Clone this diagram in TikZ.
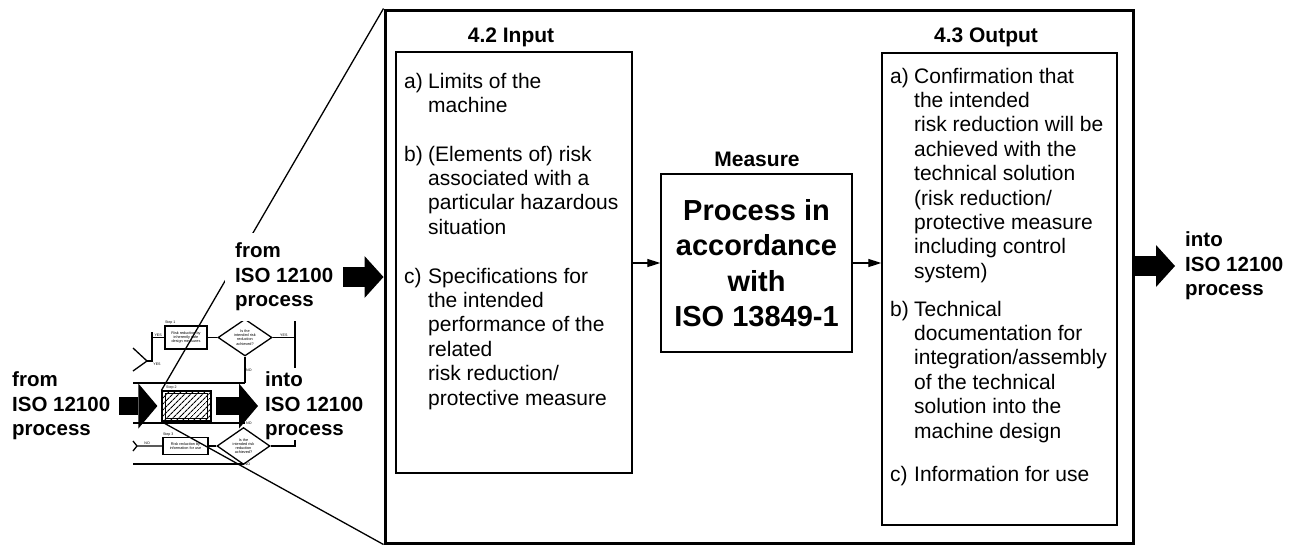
\documentclass[tikz,border=0pt]{standalone}
\usepackage{fontspec}
\setmainfont{Liberation Sans}
\usetikzlibrary{arrows.meta,positioning,shapes.geometric,patterns.meta}

\newcommand{\itemtab}[2]{\begin{tabular}[t]{@{}l@{}l@{}}\makebox[24pt][l]{#1}&#2\end{tabular}}

\begin{document}
\begin{tikzpicture}[%
    x=1pt, y=-1pt,
    box/.style={draw, line width=1.4pt, inner sep=0pt},
    frame/.style={draw, line width=3pt, inner sep=0pt,
        minimum width=748pt, minimum height=533pt},
    itm/.style={anchor=base west, inner sep=0pt,
        font=\fontsize{21}{24.4}\selectfont},
    title/.style={anchor=base, inner sep=0pt,
        font=\fontsize{21}{24.4}\selectfont\bfseries},
    lbl/.style={align=left, inner sep=4pt, anchor=west,
        font=\fontsize{20.5}{24.5}\selectfont\bfseries},
    link/.style={line width=1.3pt, -{Triangle[length=13pt,width=8pt]}},
    fatarrow/.style={line width=20pt,
        -{Triangle[length=19pt,width=42pt,line width=0pt]}},
    fatsmall/.style={line width=18pt,
        -{Triangle[length=19pt,width=45pt,line width=0pt]}},
    % thumbnail of the 12100 flow chart
    tbox/.style={draw, fill=white, line width=1.3pt, inner sep=0pt, align=center,
        font=\fontsize{3.8}{4.2}\selectfont},
    tdia/.style={diamond, draw, line width=1.3pt, inner sep=0pt, align=center,
        minimum width=54pt, minimum height=29pt,
        font=\fontsize{3.8}{4.2}\selectfont},
    tline/.style={line width=1.3pt},
    tlbl/.style={inner sep=0.5pt, font=\fontsize{3.6}{3.6}\selectfont},
    hatchbox/.style={draw, line width=2pt, inner sep=0pt,
        minimum width=49pt, minimum height=30pt,
        pattern={Lines[angle=45,distance=4pt,line width=1.2pt]}},
    zoomline/.style={line width=1.3pt}
]
\useasboundingbox (0,0) rectangle (1291,547);

% thumbnail: step 1
\node[tbox, minimum width=42pt, minimum height=23pt] (s1) at (186,337.5)
    {Risk reduction by\\inherently safe\\design measures};
\node[tlbl, anchor=south west] at (s1.north west) {Step 1};
\node[tdia] (d1) at (245,337.5) {Is the\\intended risk\\reduction\\achieved?};
\draw[tline] (s1) -- (d1);
\coordinate (yes1) at (295,337.5);
\draw[tline] (d1.east) -- (yes1) node[tlbl, midway, above] {YES};
\draw[tline] (295,317) -- (295,368);
\draw[tline] (152,332) -- (152,362);
\draw[tline] (152,337.5) -- (s1.west) node[tlbl, midway, above] {YES};
\draw[tline] (133,348) -- (147,361) -- (133,371);
\draw[tline] (147,361) -- (152,361);
\node[tlbl] at (157,364) {YES};
\coordinate (mtop) at (133,383);
\coordinate (mbot) at (133,423);
\draw[tline] (d1.south) -- (d1.south |- mtop) node[tlbl, midway, right] {NO};
\draw[tline] (mtop) -- (d1.south |- mtop);
\draw[tline] (mbot) -- (d1.south |- mbot) node[tlbl, right] {NO};

% thumbnail: step 2
\node[hatchbox] (s2) at (186.5,406) {};
\draw[line width=1.2pt] ([shift={(4,3)}]s2.north west) rectangle ([shift={(-4,-3)}]s2.south east);
\node[tlbl, anchor=south west] at ([xshift=4pt]s2.north west) {Step 2};

% thumbnail: step 3
\node[tbox, minimum width=45pt, minimum height=17pt] (s3) at (185.5,446)
    {Risk reduction by\\information for use};
\node[tlbl, anchor=south west] at (s3.north west) {Step 3};
\node[tdia, minimum width=53pt, minimum height=31pt] (d2) at (243.5,446)
    {Is the\\intended risk\\reduction\\achieved?};
\draw[tline] (s3) -- (d2);
\draw[tline] (133,441) -- (137,446) -- (s3.west) node[tlbl, pos=0.4, above] {NO};
\draw[tline] (137,446) -- (133,451);
\coordinate (yes3) at (295,446);
\draw[tline] (d2.east) -- (yes3) -- ++(0,-6);
\coordinate (lbot) at (133,464);
\draw[tline] (d2.south) -- (d2.south |- lbot) node[tlbl, right] {NO};
\draw[tline] (lbot) -- (d2.south |- lbot);

% frame and the three boxes
\node[frame] (frame) at (759,276.5) {};
\node[box, minimum width=236pt, minimum height=421pt] (inbox) at (514,262.5) {};
\node[box, minimum width=235pt, minimum height=472pt] (outbox) at (999.5,289) {};
\node[box, minimum width=191pt, minimum height=178pt, align=center,
    font=\fontsize{29}{35.3}\selectfont\bfseries] (measure) at (756.5,263)
    {Process in\\accordance\\with\\ISO 13849-1};

\node[title] (intitle) at (511,42) {4.2 Input};
\node[title] (outtitle) at (986,42) {4.3 Output};
\node[title] (meastitle) at (757,166) {Measure};

\draw[link] (inbox.east |- measure.west) -- (measure.west);
\draw[link] (measure.east) -- (measure.east -| outbox.west);

\node[itm] (in-a) at (404,88) {\itemtab{a)}{Limits of the\\&machine}};
\node[itm] (in-b) at (404,161) {\itemtab{b)}{(Elements of) risk\\&associated with a\\&particular hazardous\\&situation}};
\node[itm] (in-c) at (404,283) {\itemtab{c)}{Specifications for\\&the intended\\&performance of the\\&related\\&risk reduction/\\&protective measure}};

\node[itm] (out-a) at (890,83) {\itemtab{a)}{Confirmation that\\&the intended\\&risk reduction will be\\&achieved with the\\&technical solution\\&(risk reduction/\\&protective measure\\&including control\\&system)}};
\node[itm] (out-b) at (890,316) {\itemtab{b)}{Technical\\&documentation for\\&integration/assembly\\&of the technical\\&solution into the\\&machine design}};
\node[itm] (out-c) at (890,481) {\itemtab{c)}{Information for use}};

% zoom lines
\draw[zoomline] (s2.north west) -- (frame.north west);
\draw[zoomline] (s2.south west) -- (frame.south west);

% ISO 12100 labels and arrows
\node[lbl, fill=white, inner sep=10pt] (fromU) at (225,277) {from\\ISO 12100\\process};
\node[lbl] (intoR) at (1181,266) {into\\ISO 12100\\process};
\node[lbl] (fromL) at (8,406) {from\\ISO 12100\\process};
\node[lbl] (intoL) at (261,406) {into\\ISO 12100\\process};

\draw[fatarrow] (fromU.east) -- (fromU.east -| frame.west);
\draw[fatarrow] (frame.east |- intoR.west) -- ([xshift=-6pt]intoR.west);
\draw[fatsmall] ([xshift=5pt]fromL.east) -- ([xshift=-4pt]s2.west);
\draw[fatsmall] ([xshift=4pt]s2.east) -- ([xshift=-3pt]intoL.west);

\end{tikzpicture}
\end{document}
